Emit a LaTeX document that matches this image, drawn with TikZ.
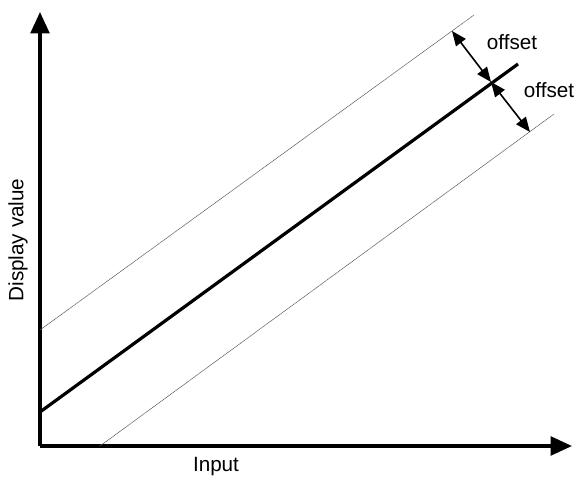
\documentclass[tikz,border=0pt]{standalone}
\usepackage{fontspec}
\setmainfont{Liberation Sans}
\usetikzlibrary{arrows.meta, positioning, calc}

\tikzset{
    axis/.style={line width=2.5pt, -{Triangle[length=16pt, width=14pt]}},
    refline/.style={line width=0.4pt, gray!70!black, dash pattern=on 1pt off 0.3pt},
    mainline/.style={line width=2.4pt},
    offarrow/.style={line width=1.2pt, {Triangle[length=11pt, width=9pt]}-{Triangle[length=11pt, width=9pt]}},
    lbl/.style={font=\fontsize{15.5}{18}\selectfont}
}

\begin{document}
\begin{tikzpicture}[x=0.75pt, y=-0.75pt]
    \useasboundingbox (0,0) rectangle (576,478);

    % Axes
    \coordinate (origin) at (40,446);
    \coordinate (ytip) at (40,12);
    \coordinate (xtip) at (572,446);
    \draw[axis] (origin) -- (ytip);
    \draw[axis] (origin) -- (xtip);

    % Upper and lower offset lines
    \coordinate (upstart) at (40,330);
    \coordinate (upend) at (474,15);
    \coordinate (lowstart) at (100,446);
    \coordinate (lowend) at (554,114);
    \draw[refline] (upstart) -- (upend);
    \draw[refline] (lowstart) -- (lowend);

    % Display line
    \coordinate (mainstart) at (40,412);
    \coordinate (mainend) at (518,64);
    \draw[mainline] (mainstart) -- (mainend);

    % Offset arrows
    \coordinate (uptop) at (452,31);
    \coordinate (midpt) at (491,82);
    \coordinate (lowbot) at (530,132);
    \draw[offarrow] (uptop) -- (midpt);
    \draw[offarrow] (midpt) -- (lowbot);

    % Labels
    \node[lbl] (offsetup) at (512,42) {offset};
    \node[lbl] (offsetlow) at (549,90) {offset};
    \node[lbl] (inputlbl) at (216,467) {Input};
    \node[lbl, rotate=90] (displbl) at (18,240) {Display value};
\end{tikzpicture}
\end{document}
